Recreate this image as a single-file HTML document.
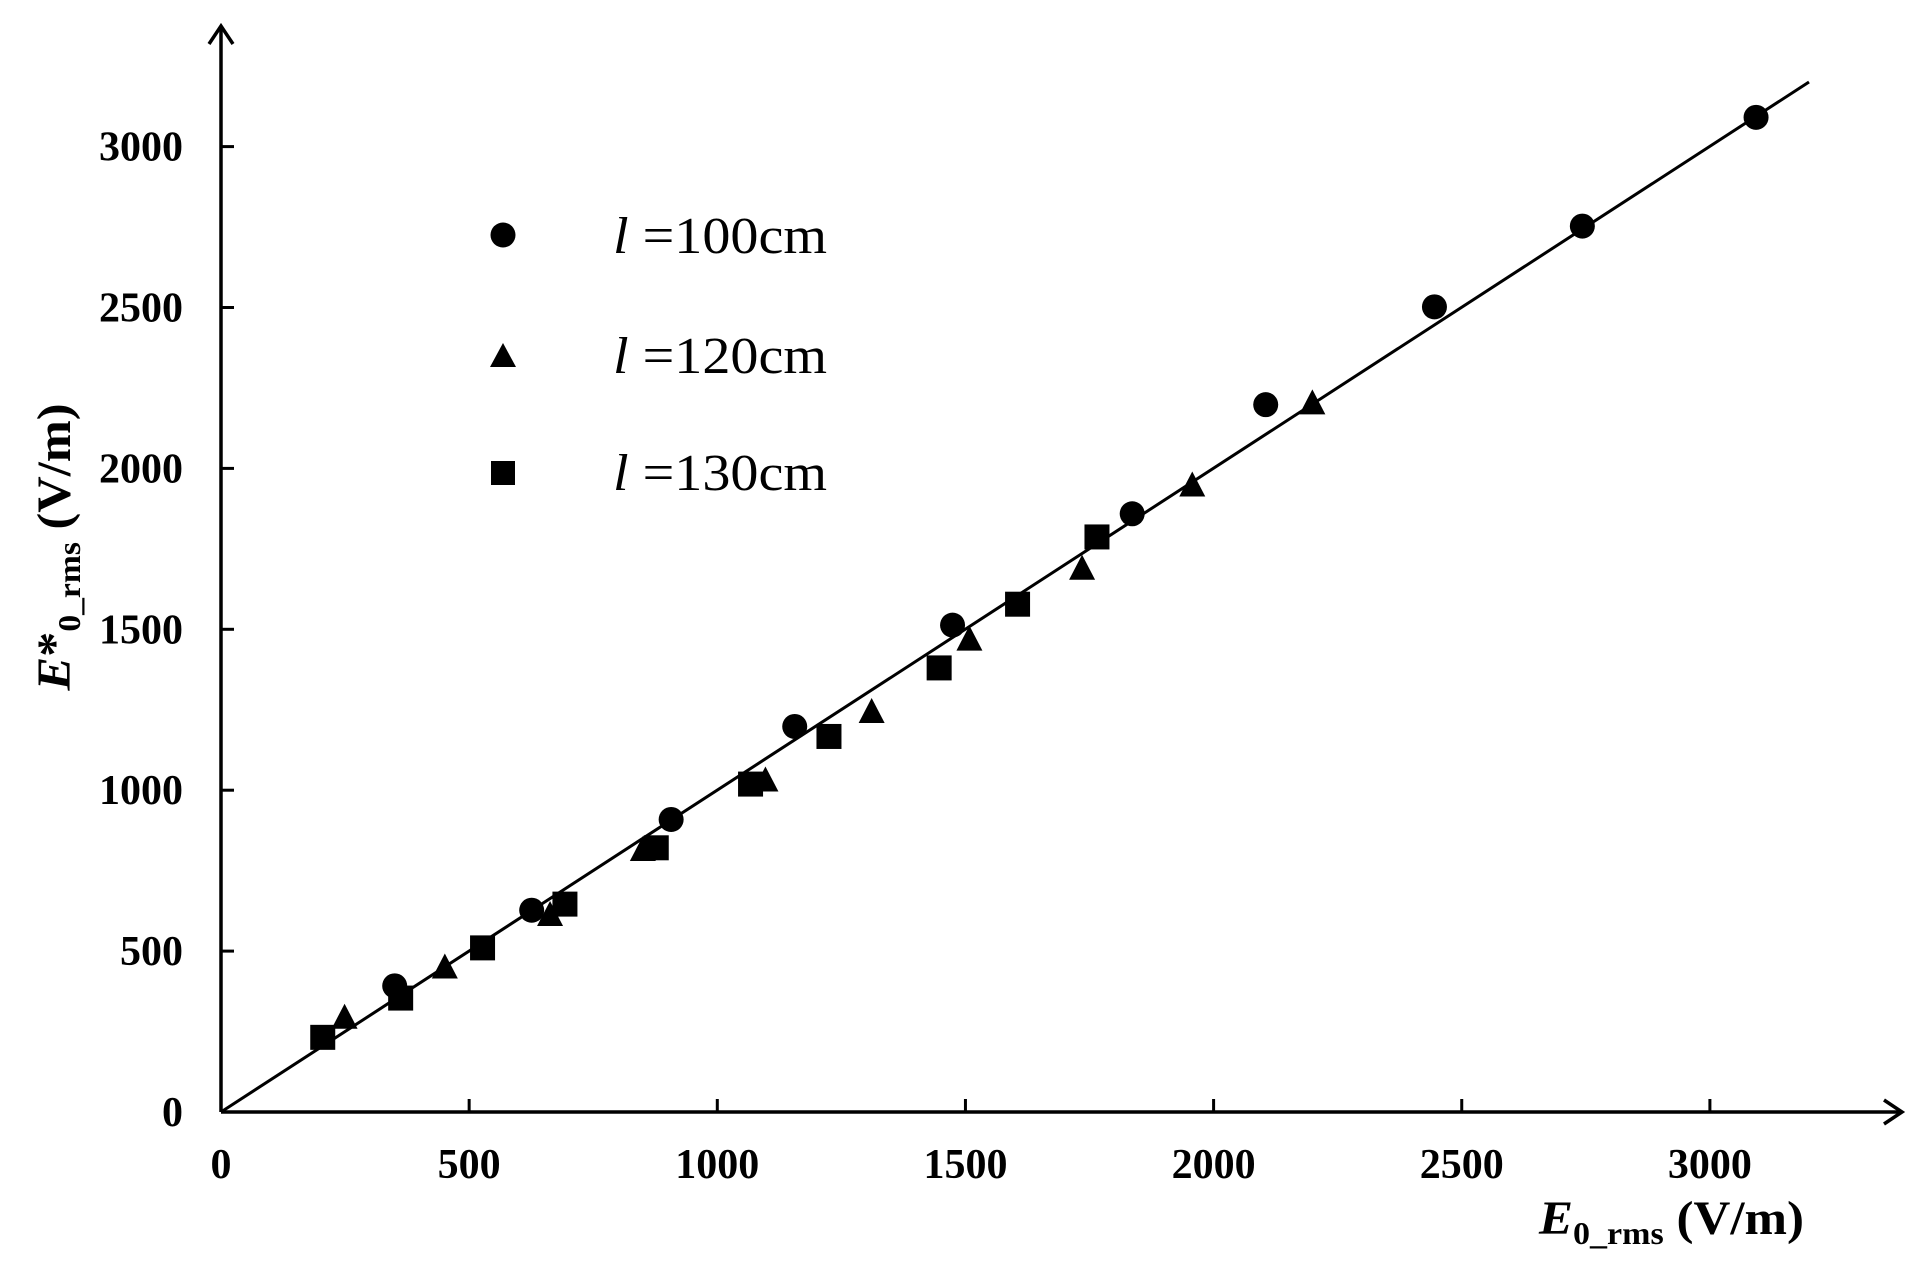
<!DOCTYPE html>
<html><head><meta charset="utf-8"><style>html,body{margin:0;padding:0;background:#fff}svg{display:block}</style></head>
<body>
<svg id="s" width="1918" height="1275" viewBox="0 0 1918 1275" xmlns="http://www.w3.org/2000/svg" font-family="Liberation Serif, serif">
<rect width="1918" height="1275" fill="#fff"/>
<g stroke="#000" stroke-width="3.5" fill="none">
<line x1="221" y1="1112" x2="1900" y2="1112"/>
<line x1="221" y1="1112" x2="221" y2="28"/>
<polyline points="1884,1100 1902,1112 1884,1124"/>
<polyline points="209,44 221,26 233,44"/>
</g>
<g id="ticks" stroke="#000" stroke-width="3"></g>
<line x1="221" y1="1112" x2="1809" y2="82" stroke="#000" stroke-width="3"/>
<g font-weight="bold" font-size="42" fill="#000" id="labels"></g>
<g id="pts" fill="#000"></g>
<circle cx="503" cy="235" r="12.5" fill="#000"/>
<polygon points="503,343 516,367 490,367" fill="#000"/>
<rect x="491" y="461" width="24" height="24" fill="#000"/>
<g font-size="52" fill="#000">
<text x="613" y="253" textLength="214" lengthAdjust="spacingAndGlyphs"><tspan font-style="italic">l</tspan> =100cm</text>
<text x="613" y="373" textLength="214" lengthAdjust="spacingAndGlyphs"><tspan font-style="italic">l</tspan> =120cm</text>
<text x="613" y="490" textLength="214" lengthAdjust="spacingAndGlyphs"><tspan font-style="italic">l</tspan> =130cm</text>
</g>
<text x="1539" y="1234" font-size="48" font-weight="bold" fill="#000" textLength="265" lengthAdjust="spacingAndGlyphs"><tspan font-style="italic">E</tspan><tspan font-size="32" dy="10">0_rms</tspan><tspan dy="-10"> (V/m)</tspan></text>
<text transform="translate(70,547) rotate(-90)" text-anchor="middle" font-size="48" font-weight="bold" fill="#000" textLength="287" lengthAdjust="spacingAndGlyphs"><tspan font-style="italic">E</tspan>*<tspan font-size="32" dy="10">0_rms</tspan><tspan dy="-10"> (V/m)</tspan></text>
</svg>
<script>
var X=function(v){return 221+v*0.4963},Y=function(v){return 1112-v*0.3218};
var ns="http://www.w3.org/2000/svg";
function el(p,t,a){var e=document.createElementNS(ns,t);for(var k in a)e.setAttribute(k,a[k]);document.getElementById(p).appendChild(e);return e;}
for(var v=500;v<=3000;v+=500){
el("ticks","line",{x1:X(v),y1:1112,x2:X(v),y2:1099});
el("ticks","line",{x1:221,y1:Y(v),x2:234,y2:Y(v)});
}
for(var v=0;v<=3000;v+=500){
var t=el("labels","text",{x:X(v),y:1178,"text-anchor":"middle"});t.textContent=v;
var t2=el("labels","text",{x:183,y:Y(v)+14,"text-anchor":"end"});t2.textContent=v;
}
var C=[[350,392],[626,627],[907,909],[1156,1198],[1474,1513],[1836,1859],[2105,2198],[2445,2502],[2743,2753],[3093,3091]];
var T=[[249,293],[451,449],[663,612],[850,814],[1097,1030],[1311,1243],[1508,1468],[1735,1688],[1957,1947],[2199,2202]];
var S=[[205,232],[362,354],[527,510],[693,646],[877,821],[1067,1019],[1225,1167],[1447,1380],[1605,1578],[1765,1787]];
C.forEach(function(p){el("pts","circle",{cx:X(p[0]),cy:Y(p[1]),r:12.5});});
T.forEach(function(p){var x=X(p[0]),y=Y(p[1]);el("pts","polygon",{points:(x)+","+(y-14)+" "+(x+13)+","+(y+11)+" "+(x-13)+","+(y+11)});});
S.forEach(function(p){var x=X(p[0]),y=Y(p[1]);el("pts","rect",{x:x-12.5,y:y-12.5,width:25,height:25});});
</script>
</body></html>
